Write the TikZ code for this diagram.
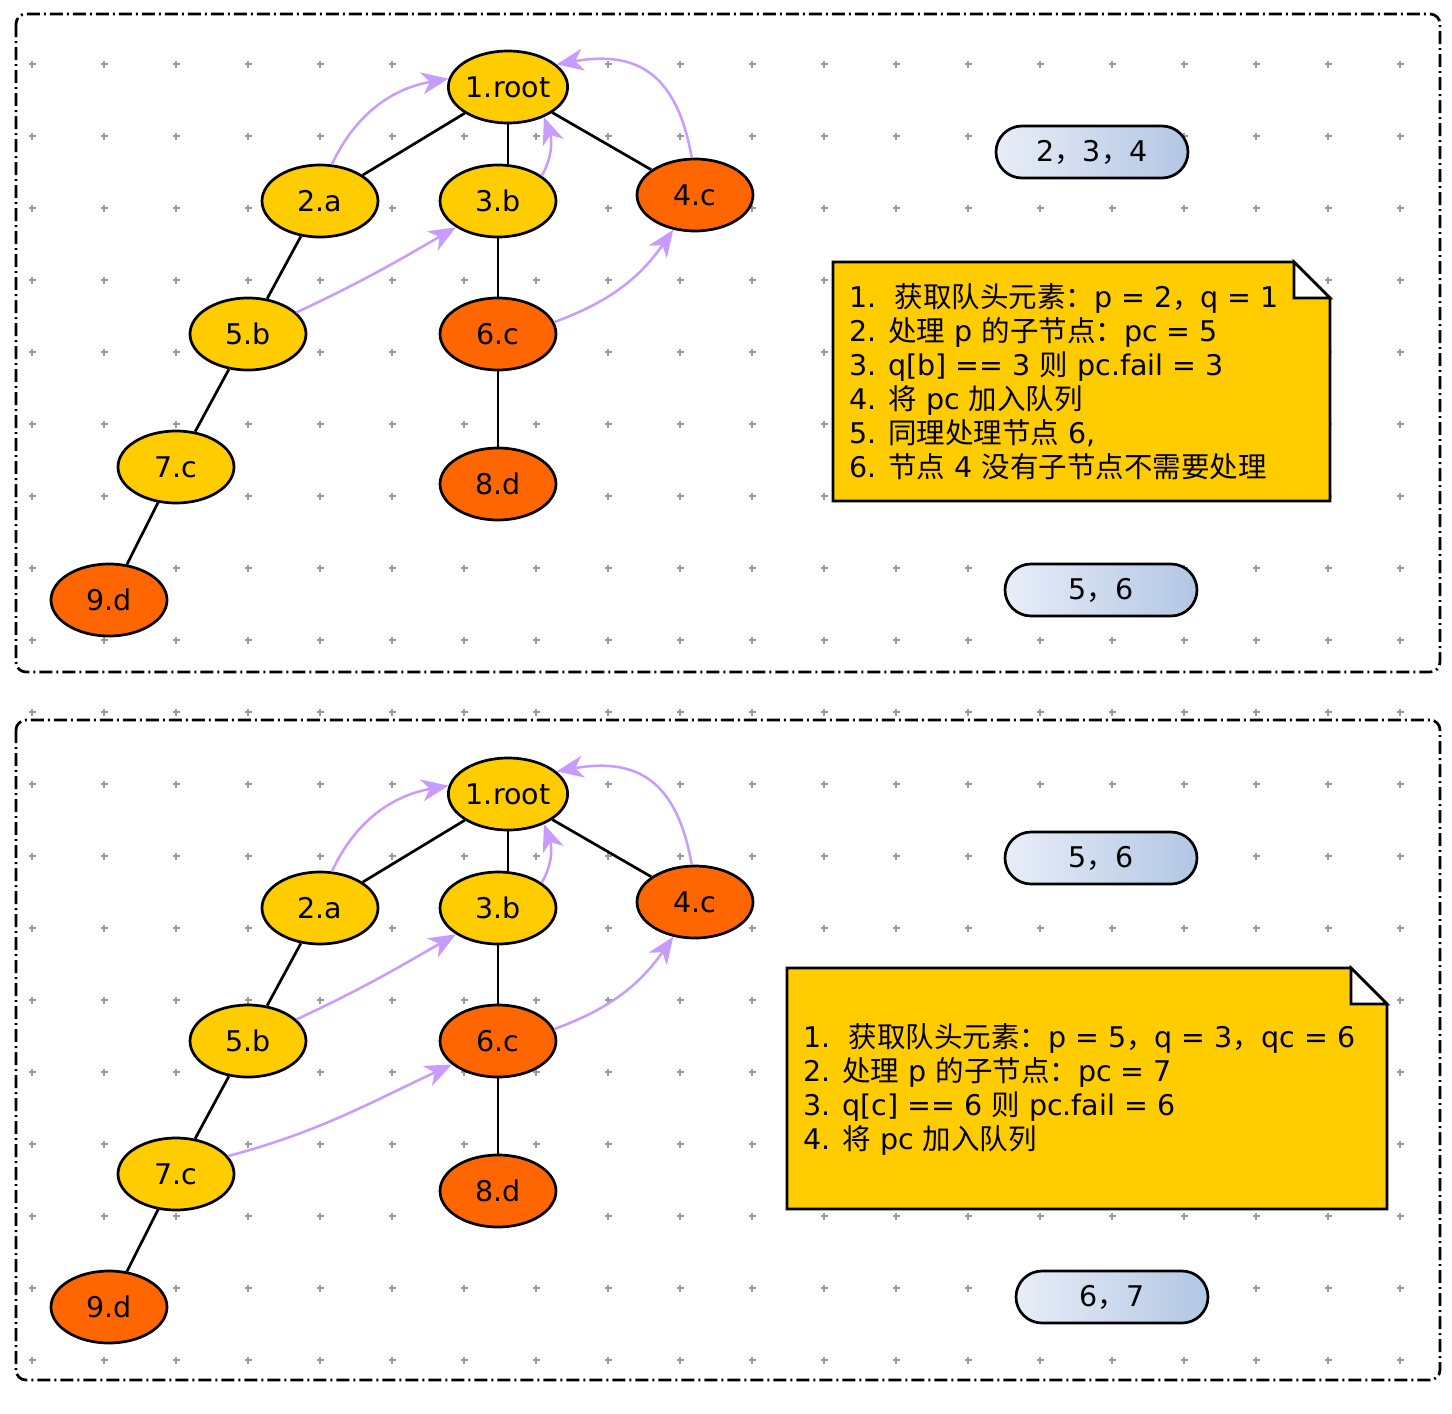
\documentclass[tikz,border=0pt]{standalone}
\usepackage{fontspec}
\setmainfont{DejaVu Sans}
\newfontfamily\cjk{Noto Sans CJK SC}
\usetikzlibrary{arrows.meta,shapes.geometric}
\newcommand{\zh}[1]{{\cjk #1}}

\definecolor{trieyellow}{HTML}{FFCC00}
\definecolor{trieorange}{HTML}{FF6600}
\definecolor{failpurple}{HTML}{C79BFF}
\definecolor{queueleft}{HTML}{E8EEF8}
\definecolor{queueright}{HTML}{B2C6E4}
\definecolor{plusgray}{HTML}{9A9A9A}

\tikzset{
  trie/.style={ellipse, draw, line width=2.7pt, minimum width=116pt, minimum height=72pt, inner sep=0pt, font=\fontsize{28.5}{30}\selectfont},
  hit/.style={trie, fill=trieyellow},
  miss/.style={trie, fill=trieorange},
  edge/.style={line width=2.7pt},
  fail/.style={line width=2.5pt, failpurple, -{Stealth[length=27pt,width=22pt,inset=8pt]}},
  queue/.style={draw, line width=2.7pt, rounded corners=26pt, minimum width=192pt, minimum height=52pt, left color=queueleft, right color=queueright, font=\fontsize{28.5}{30}\selectfont},
  panel/.style={draw, line width=2.7pt, rounded corners=10pt, dash pattern=on 13pt off 4pt on 2pt off 4pt},
  notebox/.style={fill=trieyellow, draw, line width=2.7pt},
  notetext/.style={anchor=west, align=left, inner sep=0pt, font=\fontsize{28.5}{34}\selectfont},
  plus/.style={plusgray, line width=1.4pt}
}

\begin{document}
\begin{tikzpicture}[x=1pt,y=1pt]
  \useasboundingbox (0,0) rectangle (1452,-1414);
  % background grid
  \foreach \x in {32,104,...,1400}
    \foreach \y in {64,136,...,1360}
      \draw[plus] (\x-3.5,-\y) -- (\x+3.5,-\y) (\x,-\y-3.5) -- (\x,-\y+3.5);
  \draw[panel] (16,-14) rectangle (1440,-672);
  \draw[panel] (16,-720) rectangle (1440,-1380);

  \foreach \p/\dy in {t/0,b/707} {
    \node[hit]  (n1\p) at (508,{-87-\dy})  {1.root};
    \node[hit]  (n2\p) at (320,{-201-\dy}) {2.a};
    \node[hit]  (n3\p) at (498,{-201-\dy}) {3.b};
    \node[miss] (n4\p) at (695,{-195-\dy}) {4.c};
    \node[hit]  (n5\p) at (248,{-334-\dy}) {5.b};
    \node[miss] (n6\p) at (498,{-334-\dy}) {6.c};
    \node[hit]  (n7\p) at (176,{-467-\dy}) {7.c};
    \node[miss] (n8\p) at (498,{-484-\dy}) {8.d};
    \node[miss] (n9\p) at (109,{-600-\dy}) {9.d};
    \draw[edge] (n1\p) -- (n2\p);
    \draw[edge] (n1\p.south) -- (n1\p.south |- n3\p.north);
    \draw[edge] (n1\p) -- (n4\p);
    \draw[edge] (n2\p) -- (n5\p);
    \draw[edge] (n5\p) -- (n7\p);
    \draw[edge] (n7\p) -- (n9\p);
    \draw[edge] (n3\p) -- (n6\p);
    \draw[edge] (n6\p) -- (n8\p);
    % fail pointers
    \draw[fail] (n2\p.72) to[out=65,in=190] (n1\p.172);
    \draw[fail] (n3\p.30) to[out=60,in=-70] (n1\p.-40);
    \draw[fail] (n4\p.95) to[out=100,in=10,looseness=1.3] (n1\p.25);
    \draw[fail] (n5\p.24) to[out=25,in=210] (n3\p.212);
    \draw[fail] (n6\p.12) to[out=20,in=235] (n4\p.238);
  }
  \draw[fail] (n7b.19) to[out=15,in=205] (n6b.207);

  % queues
  \node[queue] (q1) at (1092,-152) {2\zh{，}3\zh{，}4};
  \node[queue] (q2) at (1101,-590) {5\zh{，}6};
  \node[queue] (q3) at (1101,-858) {5\zh{，}6};
  \node[queue] (q4) at (1112,-1297) {6\zh{，}7};

  % notes
  \draw[notebox] (833,-262) -- (1294,-262) -- (1330,-298) -- (1330,-501) -- (833,-501) -- cycle;
  \filldraw[fill=white, line width=2.7pt] (1294,-262) -- (1294,-298) -- (1330,-298) -- cycle;
  \node[notetext] (note1) at (849,-381.5) {1.\ \ \zh{获取队头元素：}p = 2\zh{，}q = 1\\
    2. \zh{处理} p \zh{的子节点：}pc = 5\\
    3. q[b] == 3 \zh{则} pc.fail = 3\\
    4. \zh{将} pc \zh{加入队列}\\
    5. \zh{同理处理节点} 6,\\
    6. \zh{节点} 4 \zh{没有子节点不需要处理}};
  \draw[notebox] (787,-968) -- (1351,-968) -- (1387,-1004) -- (1387,-1209) -- (787,-1209) -- cycle;
  \filldraw[fill=white, line width=2.7pt] (1351,-968) -- (1351,-1004) -- (1387,-1004) -- cycle;
  \node[notetext] (note2) at (803,-1089) {1.\ \ \zh{获取队头元素：}p = 5\zh{，}q = 3\zh{，}qc = 6\\
    2. \zh{处理} p \zh{的子节点：}pc = 7\\
    3. q[c] == 6 \zh{则} pc.fail = 6\\
    4. \zh{将} pc \zh{加入队列}};
\end{tikzpicture}
\end{document}
